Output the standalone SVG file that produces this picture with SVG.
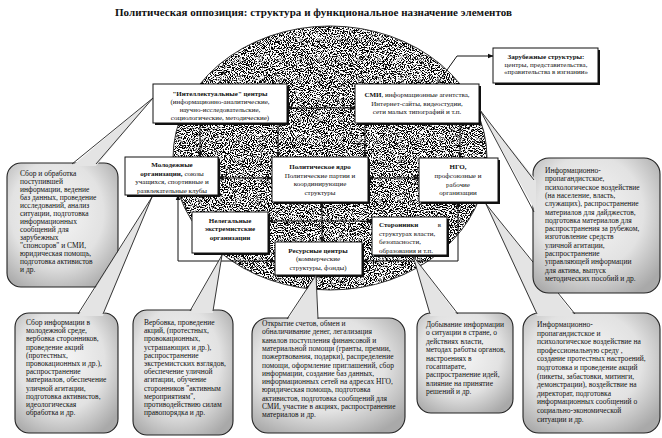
<svg xmlns="http://www.w3.org/2000/svg" width="662" height="438" viewBox="0 0 662 438">
<style>
text{font-family:"Liberation Serif","Times New Roman",serif;fill:#111}
.b{font-weight:bold}
.bt{font-size:7px;text-anchor:middle}
.bl{font-size:7px;text-anchor:start}
.br{font-size:7px;text-anchor:end}
.ct{font-size:7.5px}
.box{fill:#fff;stroke:#111;stroke-width:1}
.sh{fill:#111}
.co{fill:url(#cg);stroke:#222;stroke-width:1.1}
.tf{fill:#e4e4e4;stroke:none}
.tl{fill:none;stroke:#222;stroke-width:0.9}
.ln{fill:none;stroke:#111;stroke-width:1}
</style>
<defs>
<radialGradient id="cg" cx="45%" cy="40%" r="70%">
<stop offset="0" stop-color="#f6f6f6"/>
<stop offset="0.6" stop-color="#e2e2e2"/>
<stop offset="1" stop-color="#a9a9a9"/>
</radialGradient>
<filter id="stip" filterUnits="userSpaceOnUse" x="168" y="22" width="326" height="274">
<feTurbulence type="fractalNoise" baseFrequency="0.95" numOctaves="2" seed="7" result="n"/>
<feColorMatrix in="n" type="matrix" values="0 0 0 0 0  0 0 0 0 0  0 0 0 0 0  -10 0 0 0 5.3" result="d"/>
<feComposite in="d" in2="SourceAlpha" operator="in"/>
</filter>
<marker id="ah" viewBox="0 0 10 10" refX="9" refY="5" markerWidth="6" markerHeight="6" markerUnits="userSpaceOnUse" orient="auto-start-reverse">
<path d="M0,1 L10,5 L0,9 z" fill="#111"/>
</marker>
</defs>
<rect width="662" height="438" fill="#fff"/>
<text class="b" x="115" y="16" font-size="11" textLength="397">Политическая оппозиция: структура и функциональное назначение элементов</text>

<g id="circle">
<ellipse cx="330" cy="158" rx="157" ry="132" fill="#000" filter="url(#stip)"/>
<ellipse cx="330" cy="158" rx="157" ry="132" fill="none" stroke="#333" stroke-width="1"/>
</g>

<g id="connectors">
<line class="ln" x1="287" y1="108" x2="355" y2="108" marker-start="url(#ah)" marker-end="url(#ah)"/>
<line class="ln" x1="200" y1="123" x2="200" y2="157" marker-end="url(#ah)"/>
<line class="ln" x1="278" y1="123" x2="278" y2="157" marker-end="url(#ah)"/>
<line class="ln" x1="365" y1="123" x2="365" y2="157" marker-end="url(#ah)"/>
<line class="ln" x1="460" y1="123" x2="460" y2="158" marker-end="url(#ah)"/>
<line class="ln" x1="218" y1="178" x2="272" y2="178" marker-start="url(#ah)" marker-end="url(#ah)"/>
<line class="ln" x1="368" y1="178" x2="419" y2="178" marker-start="url(#ah)" marker-end="url(#ah)"/>
<line class="ln" x1="322" y1="202" x2="322" y2="242" marker-start="url(#ah)" marker-end="url(#ah)"/>
<line class="ln" x1="322" y1="221" x2="268" y2="221" marker-end="url(#ah)"/>
<line class="ln" x1="322" y1="221" x2="372" y2="221" marker-end="url(#ah)"/>
<polyline class="ln" points="178,195 178,261 275,261" marker-start="url(#ah)" marker-end="url(#ah)"/>
<polyline class="ln" points="458,202 458,261 362,261" marker-start="url(#ah)" marker-end="url(#ah)"/>
<polyline class="ln" points="437,84 457,56 493,56" marker-end="url(#ah)"/>
</g>

<g id="n-intel">
<rect class="sh" x="155" y="86" width="134" height="39"/>
<rect class="box" x="153" y="84" width="134" height="39"/>
<text class="bt b" x="220" y="95.5">"Интеллектуальные"  центры</text>
<text class="bt" x="220" y="104">(информационно-аналитические,</text>
<text class="bt" x="220" y="112">научно-исследовательские,</text>
<text class="bt" x="220" y="120">социологические,  методические)</text>
</g>

<g id="n-smi">
<rect class="sh" x="357" y="86" width="124" height="39"/>
<rect class="box" x="355" y="84" width="124" height="39"/>
<text class="bt" x="417" y="97"><tspan class="b">СМИ</tspan>, информационные агентства,</text>
<text class="bt" x="417" y="105.5">Интернет-сайты, видеостудии,</text>
<text class="bt" x="417" y="114">сети малых типографий  и т.п.</text>
</g>

<g id="n-foreign">
<rect class="sh" x="495" y="50" width="105" height="35"/>
<rect class="box" x="493" y="48" width="105" height="35"/>
<text class="bt b" x="546" y="59">Зарубежные структуры:</text>
<text class="bt" x="546" y="66.5">центры, представительства,</text>
<text class="bt" x="546" y="74">«правительства в изгнании»</text>
</g>

<g id="n-youth">
<rect class="sh" x="127" y="159" width="93" height="38"/>
<rect class="box" x="125" y="157" width="93" height="38"/>
<text class="bt b" x="172" y="167">Молодежные</text>
<text class="bt" x="172" y="175.5"><tspan class="b">организации,</tspan> союзы</text>
<text class="bt" x="172" y="184">учащихся, спортивные и</text>
<text class="bt" x="172" y="192.5">развлекательные клубы</text>
</g>

<g id="n-core">
<rect class="sh" x="274" y="159" width="96" height="45"/>
<rect class="box" x="272" y="157" width="96" height="45" stroke-width="2"/>
<text class="bt b" x="320" y="169">Политическое ядро</text>
<text class="bt" x="320" y="177.5">Политические партии и</text>
<text class="bt" x="320" y="186">координирующие</text>
<text class="bt" x="320" y="194.5">структуры</text>
</g>

<g id="n-ngo">
<rect class="sh" x="421" y="160" width="79" height="44"/>
<rect class="box" x="419" y="158" width="79" height="44"/>
<text class="bt b" x="458" y="169">НГО,</text>
<text class="bt" x="458" y="178">профсоюзные и</text>
<text class="bt" x="458" y="186.5">рабочие</text>
<text class="bt" x="458" y="195">организации</text>
</g>

<g id="n-illegal">
<rect class="sh" x="194" y="214" width="76" height="41"/>
<rect class="box" x="192" y="212" width="76" height="41"/>
<text class="bt b" x="230" y="222.5">Нелегальные</text>
<text class="bt b" x="230" y="231">экстремистские</text>
<text class="bt b" x="230" y="239.5">организации</text>
</g>

<g id="n-resource">
<rect class="sh" x="277" y="244" width="87" height="33"/>
<rect class="box" x="275" y="242" width="87" height="33"/>
<text class="bt b" x="318" y="252.5">Ресурсные центры</text>
<text class="bt" x="318" y="261">(коммерческие</text>
<text class="bt" x="318" y="269.5">структуры, фонды)</text>
</g>

<g id="n-supporters">
<rect class="sh" x="374" y="219" width="75" height="38"/>
<rect class="box" x="372" y="217" width="75" height="38"/>
<text class="bl b" x="379" y="227">Сторонники</text>
<text class="br" x="441" y="227">в</text>
<text class="bl" x="379" y="235.5">структурах  власти,</text>
<text class="bl" x="379" y="244">безопасности,</text>
<text class="bl" x="379" y="252.5">образования и т.п.</text>
</g>

<g id="c-analysis">
<rect class="co" x="7" y="163" width="111" height="124" rx="14"/>
<polygon class="tf" points="72,166 153,98 96,166"/>
<polyline class="tl" points="72,164 153,98 96,164"/>
<text class="ct" font-size="7.8">
<tspan x="20" y="176">Сбор и обработка</tspan>
<tspan x="20" y="184">поступившей</tspan>
<tspan x="20" y="192">информации, ведение</tspan>
<tspan x="20" y="200">баз данных, проведение</tspan>
<tspan x="20" y="208">исследований,  анализ</tspan>
<tspan x="20" y="216">ситуации, подготовка</tspan>
<tspan x="20" y="224">информационных</tspan>
<tspan x="20" y="232">сообщений для</tspan>
<tspan x="20" y="240">зарубежных</tspan>
<tspan x="20" y="248">"спонсоров" и СМИ,</tspan>
<tspan x="20" y="256">юридическая помощь,</tspan>
<tspan x="20" y="264">подготовка  активистов</tspan>
<tspan x="20" y="272">и др.</tspan>
</text>
</g>

<g id="c-youth">
<rect class="co" x="15" y="313" width="103" height="120" rx="14"/>
<polygon class="tf" points="78,316 152,197 103,316"/>
<polyline class="tl" points="78,314 152,197 103,314"/>
<text class="ct">
<tspan x="26" y="325">Сбор  информации в</tspan>
<tspan x="26" y="333.2">молодежной среде,</tspan>
<tspan x="26" y="341.4">вербовка сторонников,</tspan>
<tspan x="26" y="349.6">проведение акций</tspan>
<tspan x="26" y="357.8">(протестных,</tspan>
<tspan x="26" y="366">провокационных и др.),</tspan>
<tspan x="26" y="374.2">распространение</tspan>
<tspan x="26" y="382.4">материалов,  обеспечение</tspan>
<tspan x="26" y="390.6">уличной  агитации,</tspan>
<tspan x="26" y="398.8">подготовка  активистов,</tspan>
<tspan x="26" y="407">идеологическая</tspan>
<tspan x="26" y="415.2">обработка и др.</tspan>
</text>
</g>

<g id="c-illegal">
<rect class="co" x="133" y="310" width="100" height="125" rx="14"/>
<polygon class="tf" points="190,313 222,255 213,313"/>
<polyline class="tl" points="190,311 222,255 213,311"/>
<text class="ct">
<tspan x="144" y="325">Вербовка, проведение</tspan>
<tspan x="144" y="333.2">акций, (протестных,</tspan>
<tspan x="144" y="341.4">провокационных,</tspan>
<tspan x="144" y="349.6">устрашающих и др.),</tspan>
<tspan x="144" y="357.8">распространение</tspan>
<tspan x="144" y="366">экстремистских взглядов,</tspan>
<tspan x="144" y="374.2">обеспечение уличной</tspan>
<tspan x="144" y="382.4">агитации,   обучение</tspan>
<tspan x="144" y="390.6">сторонников "активным</tspan>
<tspan x="144" y="398.8">мероприятиям",</tspan>
<tspan x="144" y="407">противодействию силам</tspan>
<tspan x="144" y="415.2">правопорядка и др.</tspan>
</text>
</g>

<g id="c-resource">
<rect class="co" x="252" y="318" width="153" height="115" rx="16"/>
<polygon class="tf" points="287,321 316,275 318,321"/>
<polyline class="tl" points="287,319 316,275 318,319"/>
<text class="ct" font-size="7.3">
<tspan x="262" y="326">Открытие счетов, обмен и</tspan>
<tspan x="262" y="334.3">обналичивание денег, легализация</tspan>
<tspan x="262" y="342.6">каналов поступления финансовой и</tspan>
<tspan x="262" y="350.9">материальной помощи (гранты, премии,</tspan>
<tspan x="262" y="359.2">пожертвования, подарки),  распределение</tspan>
<tspan x="262" y="367.5">помощи, оформление приглашений, сбор</tspan>
<tspan x="262" y="375.8">информации, создание баз данных,</tspan>
<tspan x="262" y="384.1">информационных сетей на адресах НГО,</tspan>
<tspan x="262" y="392.4">юридическая помощь, подготовка</tspan>
<tspan x="262" y="400.7">активистов,  подготовка  сообщений для</tspan>
<tspan x="262" y="409">СМИ, участие в акциях, распространение</tspan>
<tspan x="262" y="417.3">материалов и др.</tspan>
</text>
</g>

<g id="c-supporters">
<rect class="co" x="417" y="313" width="96" height="100" rx="14"/>
<polygon class="tf" points="430,316 413,256 458,316"/>
<polyline class="tl" points="430,314 413,256 458,314"/>
<text class="ct">
<tspan x="426" y="327">Добывание информации</tspan>
<tspan x="426" y="335.4">о ситуации в стране, о</tspan>
<tspan x="426" y="343.8">действиях власти,</tspan>
<tspan x="426" y="352.2">методах работы органов,</tspan>
<tspan x="426" y="360.6">настроениях в</tspan>
<tspan x="426" y="369">госаппарате,</tspan>
<tspan x="426" y="377.4">распространение идей,</tspan>
<tspan x="426" y="385.8">влияние на принятие</tspan>
<tspan x="426" y="394.2">решений и др.</tspan>
</text>
</g>

<g id="c-ngo">
<rect class="co" x="523" y="313" width="137" height="120" rx="16"/>
<polygon class="tf" points="537,316 486,204 575,316"/>
<polyline class="tl" points="537,314 486,204 575,314"/>
<text class="ct" font-size="7.3">
<tspan x="537" y="327">Информационно-</tspan>
<tspan x="537" y="335.6">пропагандистское и</tspan>
<tspan x="537" y="344.2">психологическое воздействие на</tspan>
<tspan x="537" y="352.8">профессиональную среду ,</tspan>
<tspan x="537" y="361.4">создание протестных настроений,</tspan>
<tspan x="537" y="370">подготовка  и проведение акций</tspan>
<tspan x="537" y="378.6">(пикеты, забастовки, митинги,</tspan>
<tspan x="537" y="387.2">демонстрации), воздействие на</tspan>
<tspan x="537" y="395.8">директорат, подготовка</tspan>
<tspan x="537" y="404.4">информационных  сообщений о</tspan>
<tspan x="537" y="413">социально-экономической</tspan>
<tspan x="537" y="421.6">ситуации и др.</tspan>
</text>
</g>

<g id="c-smi">
<rect class="co" x="533" y="158" width="127" height="135" rx="16"/>
<polygon class="tf" points="536,180 480,110 536,212"/>
<polyline class="tl" points="534,180 480,110 534,212"/>
<text class="ct" font-size="7.3">
<tspan x="545" y="173">Информационно-</tspan>
<tspan x="545" y="181.3">пропагандистское,</tspan>
<tspan x="545" y="189.6">психологическое воздействие</tspan>
<tspan x="545" y="197.9">(на население, власть,</tspan>
<tspan x="545" y="206.2">служащих),  распространение</tspan>
<tspan x="545" y="214.5">материалов для дайджестов,</tspan>
<tspan x="545" y="222.8">подготовка материалов для</tspan>
<tspan x="545" y="231.1">распространения за рубежом,</tspan>
<tspan x="545" y="239.4">изготовление средств</tspan>
<tspan x="545" y="247.7">уличной агитации,</tspan>
<tspan x="545" y="256">распространение</tspan>
<tspan x="545" y="264.3">управляющей информации</tspan>
<tspan x="545" y="272.6">для актива, выпуск</tspan>
<tspan x="545" y="280.9">методических  пособий и др.</tspan>
</text>
</g>
</svg>
